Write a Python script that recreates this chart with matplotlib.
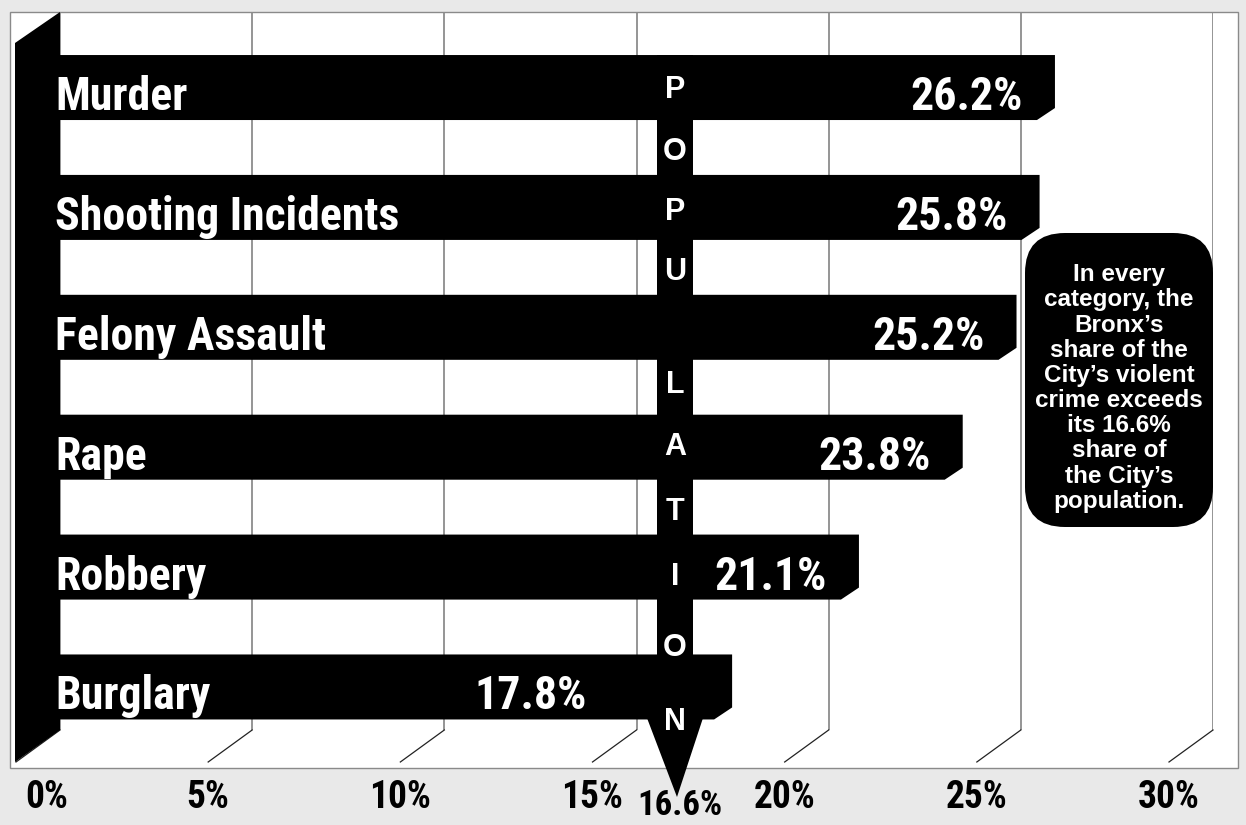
import matplotlib.pyplot as plt
from matplotlib import font_manager
from matplotlib.patches import Polygon, Rectangle, FancyBboxPatch
from matplotlib.transforms import Affine2D, blended_transform_factory

# Bronx share of NYC violent crime, by category (top to bottom)
categories = ['Murder', 'Shooting Incidents', 'Felony Assault', 'Rape', 'Robbery', 'Burglary']
bronx_share = [26.2, 25.8, 25.2, 23.8, 21.1, 17.8]
population_share = 16.6
ticks = [0, 5, 10, 15, 20, 25, 30]
tick_labels = ['0%', '5%', '10%', '15%', '20%', '25%', '30%']
pop_letters = list('POPULATION')
note = ("In every\ncategory, the\nBronx\u2019s\nshare of the\nCity\u2019s violent\n"
        "crime exceeds\nits 16.6%\nshare of\nthe City\u2019s\npopulation.")

# pick a narrow bold face if one is installed, else shrink Liberation Sans
installed = {f.name for f in font_manager.fontManager.ttflist}
narrow = next((f for f in ['Liberation Sans Narrow', 'Arial Narrow', 'Roboto Condensed',
                           'Open Sans Condensed', 'Noto Sans Condensed'] if f in installed), None)
if narrow:
    NARROW, k = [narrow, 'DejaVu Sans'], 1.0
else:
    NARROW, k = ['Liberation Sans', 'DejaVu Sans'], 0.82
WIDE = ['Liberation Sans', 'DejaVu Sans']

W, H = 1246, 825
fig = plt.figure(figsize=(W / 100, H / 100), dpi=100, facecolor='#e9e9e9')
# image-pixel coordinates (origin top-left) for the decoration
PIX = Affine2D().scale(1 / W, -1 / H).translate(0, 1) + fig.transFigure

# back wall of the 3-D chart: 0% at x=60px, 30% at x=1213px, y 12..730px
YLO, YHI = -0.409, 5.58
ax = fig.add_axes([60 / W, (H - 730) / H, 1153 / W, 718 / H])
ax.set_xlim(0, 30)
ax.set_ylim(YLO, YHI)
ax.axis('off')

PX = 1153 / 30
PY = 718 / (YHI - YLO)


def dx(p):
    return p / PX


def dy(p):  # p pixels downwards
    return -p / PY


# white panel + frame
fig.add_artist(Rectangle((10, 12), 1228, 756, transform=PIX, fc='white',
                         ec='#8a8a8a', lw=1, zorder=-1))

# gridlines on the wall and their run across the floor
for t in ticks:
    ax.plot([t, t], [YLO, YHI], color='#8c8c8c', lw=1.3, zorder=1)
    ax.plot([t, t + dx(-44)], [YLO, YLO + dy(32)], color='#222222', lw=0.9,
            clip_on=False, zorder=1)

# left wall
ax.add_patch(Polygon([(0, YHI), (0, YLO), (dx(-45), YLO + dy(32)), (dx(-45), YHI + dy(31))],
                     closed=True, fc='black', ec='none', clip_on=False, zorder=3))

# bars
n = len(categories)
bar_h = 53 / PY
pop_left = population_share + dx(-41)
pop_right = population_share + dx(-5)
for i, (cat, v) in enumerate(zip(categories, bronx_share)):
    yc = n - 1 - i
    top, bot = yc + bar_h / 2, yc - bar_h / 2
    xr, xl = v + dx(-12), dx(-20)
    ax.add_patch(Polygon([(xl, top), (xr, top), (xr, bot),
                          (xr + dx(-18), bot + dy(12)), (xl, bot + dy(12))],
                         closed=True, fc='black', ec='none', zorder=3, clip_on=False))
    ax.text(dx(-5), yc + dy(28.5), cat, ha='left', va='baseline', color='white',
            fontsize=33 * k, fontweight='bold', family=NARROW, zorder=6)
    lx = v + dx(-44)
    if lx > pop_left and lx - dx(110) < pop_right:
        lx = pop_left + dx(-70)
    ax.text(lx, yc + dy(28.5), f'{v}%', ha='right', va='baseline', color='white',
            fontsize=33 * k, fontweight='bold', family=NARROW, zorder=6)

# population marker
top_bar = n - 1 + bar_h / 2
strip_bot = YLO + dy(-12)
ax.add_patch(Rectangle((pop_left, strip_bot), pop_right - pop_left, top_bar - strip_bot,
                       fc='black', ec='none', zorder=4))
ax.add_patch(Polygon([(population_share + dx(-51), strip_bot),
                      (population_share + dx(5), strip_bot),
                      (population_share + dx(-21), YLO + dy(67))],
                     closed=True, fc='black', ec='none', clip_on=False, zorder=4))
letter_y = [90, 152, 212, 272, 385, 447, 512, 577, 648, 722]
xpix = blended_transform_factory(ax.transData, PIX)
for ch, ly in zip(pop_letters, letter_y):
    ax.text(population_share + dx(-23), ly, ch, transform=xpix, ha='center', va='center',
            color='white', fontsize=22, fontweight='bold', family=WIDE, zorder=6)

# x tick labels along the front of the floor
for t, lab in zip(ticks, tick_labels):
    ax.text(max(t + dx(-44), dx(-13)), YLO + dy(78), lab, ha='center', va='baseline',
            fontsize=27 * k, fontweight='bold', family=NARROW, clip_on=False, zorder=6)
ax.text(population_share + dx(-18), YLO + dy(85), f'{population_share}%', ha='center',
        va='baseline', fontsize=25 * k, fontweight='bold', family=NARROW, clip_on=False,
        zorder=6)

# callout
ax.add_patch(FancyBboxPatch((1031, 239), 176, 282, boxstyle='round,pad=6,rounding_size=40',
                            transform=PIX, fc='black', ec='none', clip_on=False, zorder=4))
ax.text(1119, 388, note, transform=PIX, ha='center', va='center', color='white',
        fontsize=17.5, fontweight='bold', family=WIDE, linespacing=1.12,
        multialignment='center', zorder=6)

fig.savefig('out.png', dpi=100, facecolor=fig.get_facecolor())
